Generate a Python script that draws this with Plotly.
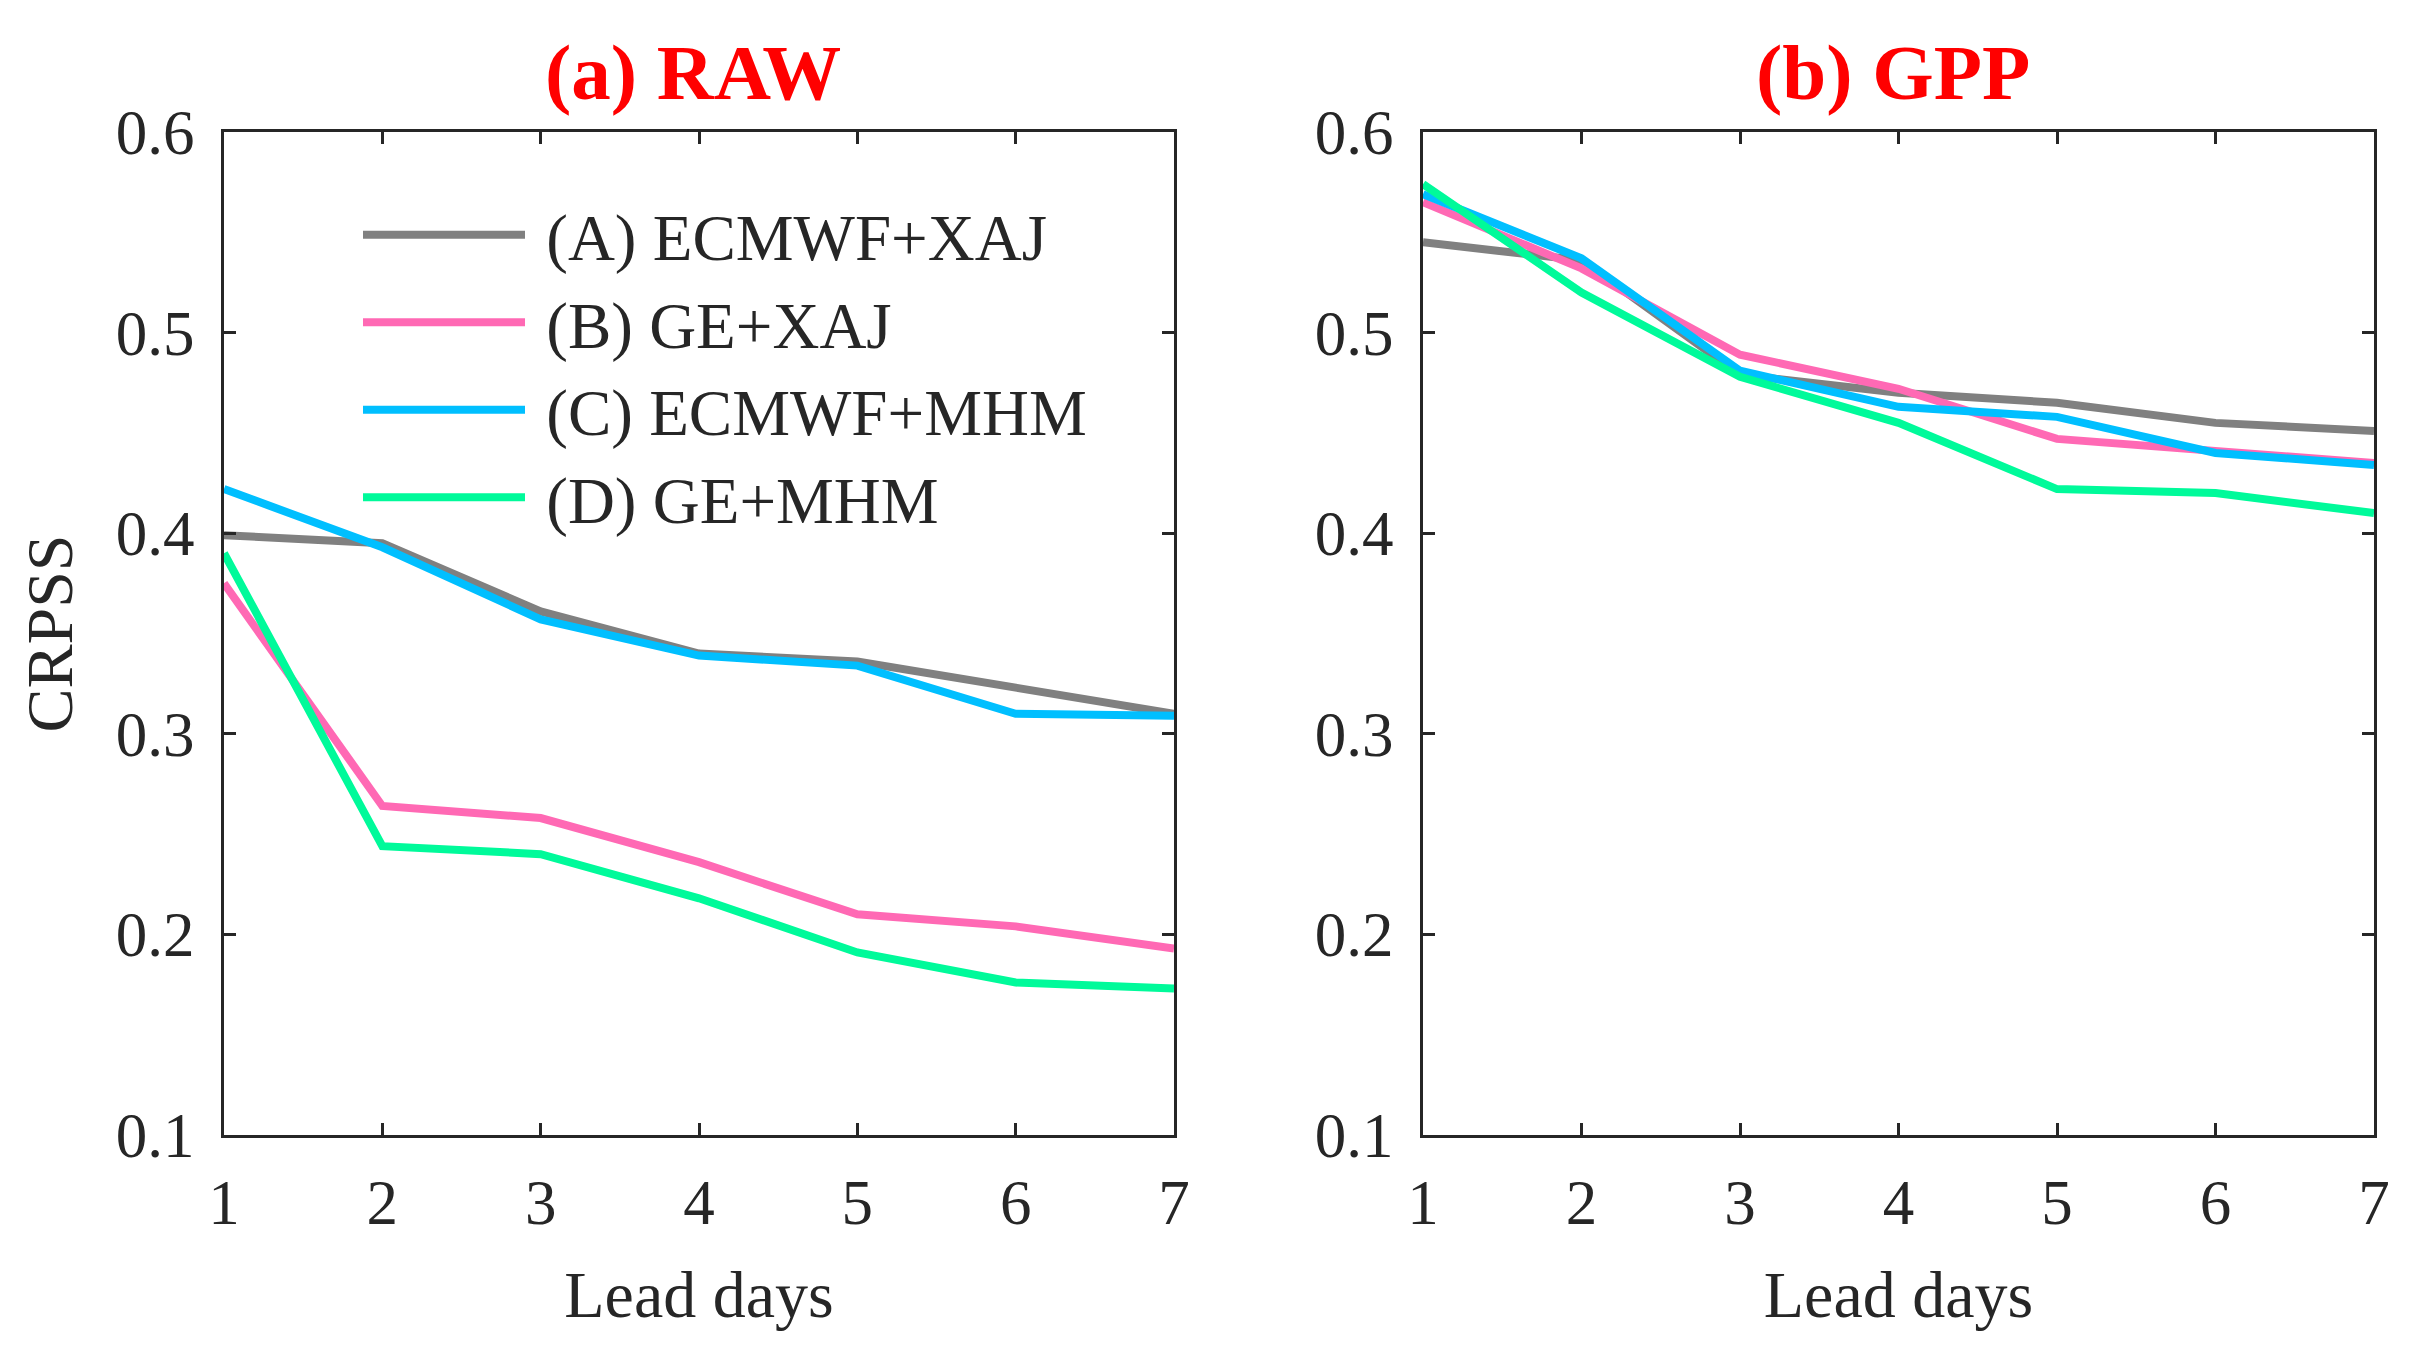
import plotly.graph_objects as go

lead_days = [1, 2, 3, 4, 5, 6, 7]
series_names = ["(A) ECMWF+XAJ", "(B) GE+XAJ", "(C) ECMWF+MHM", "(D) GE+MHM"]
colors = ["#808080", "#FF69B4", "#00BFFF", "#00FA9A"]

raw_A = [0.399, 0.395, 0.361, 0.340, 0.336, 0.323, 0.310]
raw_B = [0.375, 0.264, 0.258, 0.236, 0.210, 0.204, 0.193]
raw_C = [0.422, 0.393, 0.357, 0.339, 0.334, 0.310, 0.309]
raw_D = [0.390, 0.244, 0.240, 0.218, 0.191, 0.176, 0.173]

gpp_A = [0.545, 0.536, 0.479, 0.470, 0.465, 0.455, 0.451]
gpp_B = [0.565, 0.532, 0.489, 0.472, 0.447, 0.441, 0.435]
gpp_C = [0.569, 0.537, 0.481, 0.463, 0.458, 0.440, 0.434]
gpp_D = [0.574, 0.520, 0.478, 0.455, 0.422, 0.420, 0.410]

y_ticks = [0.1, 0.2, 0.3, 0.4, 0.5, 0.6]
y_tick_labels = ["0.1", "0.2", "0.3", "0.4", "0.5", "0.6"]
panel_titles = ["(a) RAW", "(b) GPP"]
x_title = "Lead days"
y_title = "CRPSS"

FONT = "Liberation Serif"
W, H = 2422, 1364

fig = go.Figure()
raw = [raw_A, raw_B, raw_C, raw_D]
gpp = [gpp_A, gpp_B, gpp_C, gpp_D]
for i in range(4):
    fig.add_trace(go.Scatter(x=lead_days, y=raw[i], mode="lines", name="\u00a0" + series_names[i],
                             line=dict(color=colors[i], width=8), xaxis="x", yaxis="y",
                             legendgroup=str(i), showlegend=True))
for i in range(4):
    fig.add_trace(go.Scatter(x=lead_days, y=gpp[i], mode="lines", name=series_names[i],
                             line=dict(color=colors[i], width=8), xaxis="x2", yaxis="y2",
                             legendgroup=str(i), showlegend=False))

axis_common = dict(showline=True, linecolor="#262626", linewidth=3, mirror="ticks",
                   ticks="inside", ticklen=12, tickwidth=3, tickcolor="#262626",
                   showgrid=False, zeroline=False, automargin=False,
                   tickfont=dict(family=FONT, size=63, color="#262626"))

xd1 = [224 / W, 1174 / W]
xd2 = [1423 / W, 2374 / W]
yd = [1 - 1135 / H, 1 - 132 / H]

title_font = dict(family=FONT, size=66, color="#262626")

fig.update_layout(
    width=W, height=H,
    margin=dict(l=0, r=0, t=0, b=0, autoexpand=False),
    plot_bgcolor="white", paper_bgcolor="white",
    xaxis=dict(domain=xd1, range=[1, 7], tickvals=lead_days, anchor="y",
               ticklabelstandoff=10,
               title=dict(text=x_title, font=title_font, standoff=35),
               **axis_common),
    yaxis=dict(domain=yd, range=[0.1, 0.6], tickvals=y_ticks, ticktext=y_tick_labels, anchor="x",
               ticklabelstandoff=14,
               title=dict(text=y_title, font=title_font, standoff=22),
               **axis_common),
    xaxis2=dict(domain=xd2, range=[1, 7], tickvals=lead_days, anchor="y2",
                ticklabelstandoff=10,
                title=dict(text=x_title, font=title_font, standoff=35),
                **axis_common),
    yaxis2=dict(domain=yd, range=[0.1, 0.6], tickvals=y_ticks, ticktext=y_tick_labels, anchor="x2",
                ticklabelstandoff=14, **axis_common),
    legend=dict(x=358 / W, y=1 - 186 / H, xanchor="left", yanchor="top",
                bgcolor="rgba(0,0,0,0)", itemwidth=162,
                font=dict(family=FONT, size=65, color="#262626"),
                tracegroupgap=0),
    showlegend=True,
)

for i, t in enumerate(panel_titles):
    cx = (xd1 if i == 0 else xd2)
    fig.add_annotation(text="<b>" + t + "</b>", xref="paper", yref="paper",
                       x=(cx[0] + cx[1]) / 2 - 6 / W, y=1 - 73 / H, xanchor="center", yanchor="middle",
                       showarrow=False, font=dict(family=FONT, size=79, color="#FF0000"))

fig.write_html("out.html")
